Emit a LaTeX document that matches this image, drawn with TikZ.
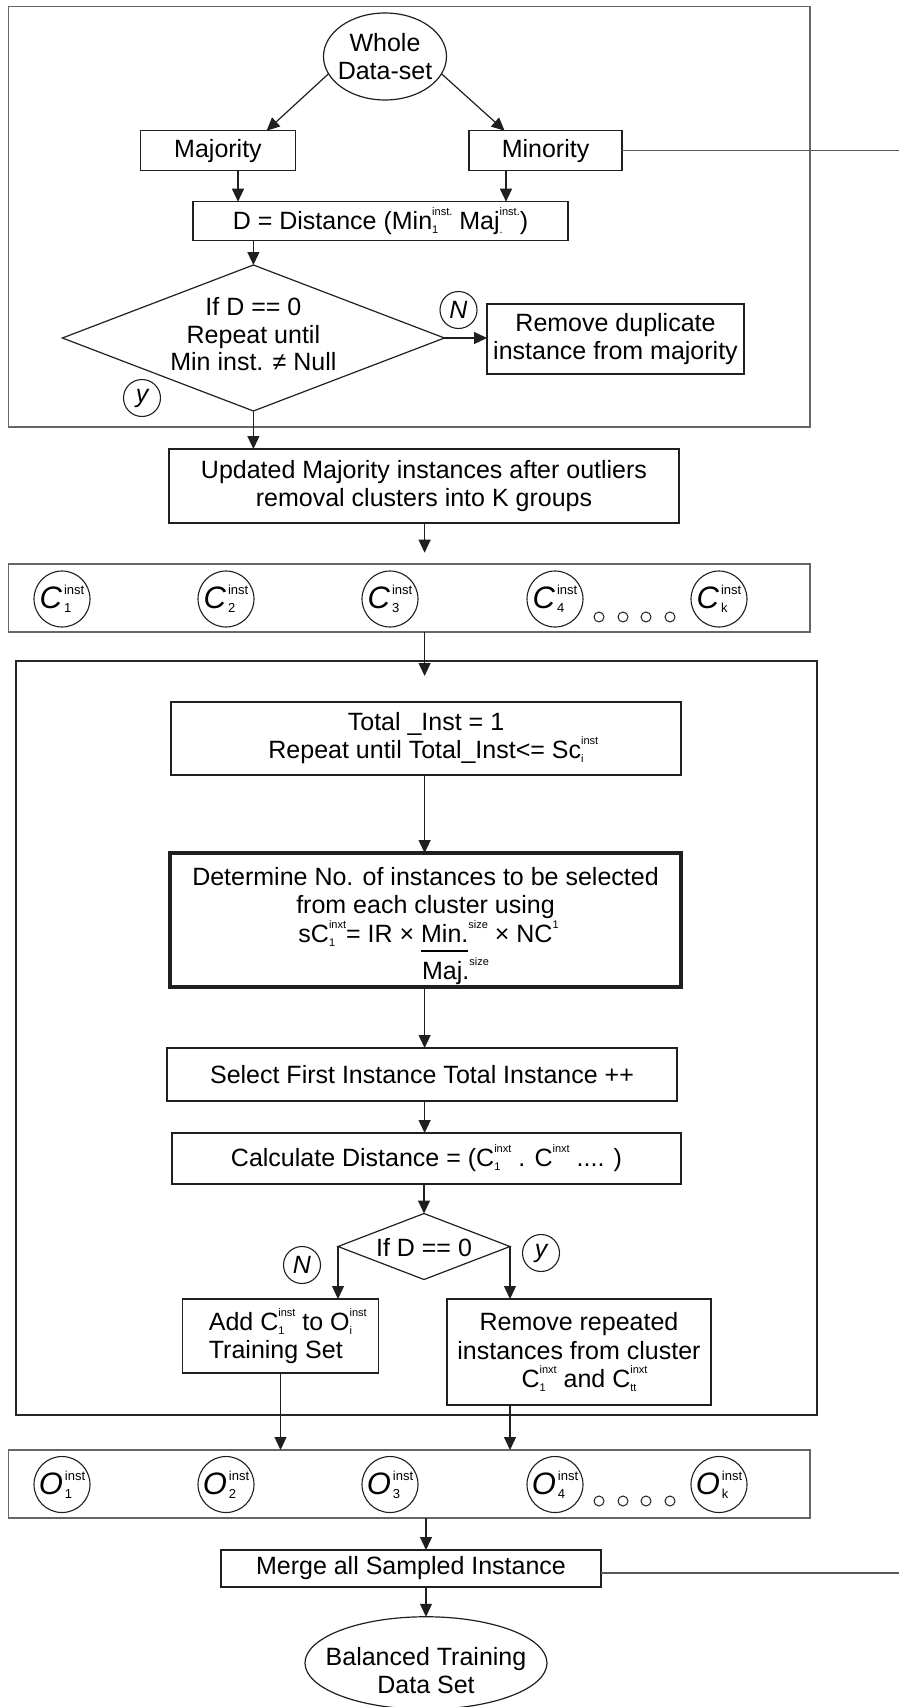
\documentclass[tikz,border=0pt]{standalone}
\usepackage{fontspec}
\setmainfont{Liberation Sans}
\usetikzlibrary{shapes.geometric,arrows.meta}

% superscript over subscript, set in a small size
\newsavebox\supbx
\newsavebox\subbx
\newsavebox\barbx
\newcommand{\ixs}[3][11]{%
  \sbox\supbx{\fontsize{#1}{#1}\selectfont #2}%
  \sbox\subbx{\fontsize{#1}{#1}\selectfont #3}%
  \rlap{\raisebox{14pt}{\usebox\supbx}}%
  \raisebox{-4pt}{\usebox\subbx}%
  \ifdim\wd\supbx>\wd\subbx\hspace{\dimexpr\wd\supbx-\wd\subbx\relax}\fi}
% text with a fraction bar beneath it
\newcommand{\fbar}[1]{\sbox\barbx{#1}\rlap{\rule[-9.5pt]{\wd\barbx}{1.3pt}}\usebox\barbx}
% cluster label inside a circle
\newcommand{\clab}[2]{{\fontsize{31}{31}\selectfont\itshape #1\kern2pt}\ixs[13]{inst}{#2}}

\begin{document}
\begin{tikzpicture}[x=1pt, y=-1pt,
  every node/.style={inner sep=0pt, outer sep=0pt, font=\fontsize{25}{28}\selectfont, align=center},
  box/.style={draw=black!88, line width=1.4pt, rectangle},
  thickbox/.style={box, line width=3.5pt},
  frame/.style={draw=black!60, line width=1.3pt, rectangle},
  innerframe/.style={draw=black!85, line width=1.6pt, rectangle},
  ell/.style={draw=black!88, line width=1.2pt, ellipse},
  dia/.style={draw=black!88, line width=1.2pt, diamond},
  tag/.style={draw=black!88, line width=1.1pt, circle, minimum size=37pt, font=\fontsize{25}{25}\selectfont\itshape},
  cl/.style={draw=black!88, line width=1.1pt, circle, minimum size=56pt},
  dot/.style={draw=black!88, line width=1pt, circle, minimum size=10pt},
  arr/.style={draw=black!88, line width=1.2pt, -{Triangle[length=13pt,width=12pt]}},
  longline/.style={draw=black!65, line width=1.3pt}
]
\useasboundingbox (0,0) rectangle (899,1707);

% ---------- outlier removal stage ----------
\node[frame, minimum width=801.4pt, minimum height=420.5pt] (topframe) at (409.3,216.75) {};
\node[ell, minimum width=123pt, minimum height=87pt] (whole) at (385,56.5) {};
\node (wholet) at (385,57) {Whole\\Data-set};
\node[box, minimum width=155pt, minimum height=40pt] (majb) at (218,150.7) {Majority};
\node[box, minimum width=153pt, minimum height=40pt] (minb) at (545.5,150.7) {Minority};
\node[box, minimum width=375pt, minimum height=39pt] (dist) at (380.5,221.2)
  {D = Distance (Min\ixs{inst.}{1} Maj\ixs{inst.}{.})};
\node[dia, minimum width=382pt, minimum height=146pt] (dec1) at (253.4,338) {};
\node[font=\fontsize{25}{27.5}\selectfont] (dec1t) at (253.4,334.5) {If D == 0\\Repeat until\\Min inst. ≠ Null};
\node[tag] (n1) at (458.5,310) {N};
\node[box, minimum width=257pt, minimum height=70pt] (rem1) at (615.5,339)
  {Remove duplicate\\instance from majority};
\node[tag] (y1) at (142,398) {y};

\node[box, minimum width=510pt, minimum height=74pt] (upd) at (424,486)
  {Updated Majority instances after outliers\\removal clusters into K groups};

% ---------- clusters ----------
\node[frame, minimum width=801.4pt, minimum height=68pt] (crow) at (409.3,598) {};
\node[cl] (c1) at (62,599) {\clab{C}{1}};
\node[cl] (c2) at (226,599) {\clab{C}{2}};
\node[cl] (c3) at (390,599) {\clab{C}{3}};
\node[cl] (c4) at (555,599) {\clab{C}{4}};
\node[cl] (ck) at (719,599) {\clab{C}{k}};
\node[dot] (cd1) at (599,617) {};
\node[dot] (cd2) at (623,617) {};
\node[dot] (cd3) at (646,617) {};
\node[dot] (cd4) at (670,617) {};

% ---------- per-cluster sampling loop ----------
\node[innerframe, minimum width=801pt, minimum height=754pt] (inner) at (416.5,1038) {};
\node[box, minimum width=510pt, minimum height=73pt] (total) at (426,738.5)
  {Total \_Inst = 1\\Repeat until Total\_Inst<= Sc\ixs{inst}{i}};
\node[thickbox, minimum width=511pt, minimum height=134pt] (det) at (425.5,920) {};
\node[font=\fontsize{25}{28.5}\selectfont] (dett) at (425.5,926)
  {Determine No. of instances to be selected\\
   from each cluster using\\
   sC\ixs{inxt}{1}= IR × \fbar{Min.}\ixs{size}{} × NC\ixs{1}{}\\[5pt]
   \hphantom{sC\ixs{inxt}{1}= IR × }\rlap{\hspace{4pt}Maj.\ixs{size}{}}\hphantom{\fbar{Min.}\ixs{size}{} × NC\ixs{1}{}}};
\node[box, minimum width=510pt, minimum height=53pt] (sel) at (422,1074.5)
  {Select First Instance Total Instance ++};
\node[box, minimum width=509pt, minimum height=51pt] (calc) at (426.5,1158.5)
  {Calculate Distance = (C\ixs{inxt}{1} . C\ixs{inxt}{} .... )};
\node[dia, minimum width=172pt, minimum height=66pt] (dec2) at (424,1246.5) {};
\node (dec2t) at (424,1248) {If D == 0};
\node[tag] (n2) at (302,1265) {N};
\node[tag] (y2) at (541,1253) {y};
\node[box, minimum width=196pt, minimum height=74pt, align=left] (add) at (280.5,1336)
  {Add C\ixs{inst}{1} to O\ixs{inst}{i}\\Training Set};
\node[box, minimum width=264pt, minimum height=106pt, font=\fontsize{25}{28.5}\selectfont] (rem2) at (579,1352)
  {Remove repeated\\instances from cluster\\C\ixs{inxt}{1} and C\ixs{inxt}{tt}};

% ---------- sampled outputs ----------
\node[frame, minimum width=801.4pt, minimum height=68pt] (orow) at (409.3,1484) {};
\node[cl] (o1) at (62,1484.5) {\clab{O}{1}};
\node[cl] (o2) at (226,1484.5) {\clab{O}{2}};
\node[cl] (o3) at (390,1484.5) {\clab{O}{3}};
\node[cl] (o4) at (555,1484.5) {\clab{O}{4}};
\node[cl] (ok) at (719,1484.5) {\clab{O}{k}};
\node[dot] (od1) at (599,1501) {};
\node[dot] (od2) at (623,1501) {};
\node[dot] (od3) at (646,1501) {};
\node[dot] (od4) at (670,1501) {};

\node[box, minimum width=380pt, minimum height=37pt] (merge) at (411,1568.5) {Merge all Sampled Instance};
\node[ell, minimum width=242pt, minimum height=92.5pt] (bal) at (426,1663) {};
\node (balt) at (426,1671) {Balanced Training\\Data Set};

% ---------- connectors ----------
\coordinate (t1) at (266.6,130.7);
\coordinate (t2) at (504.6,130.7);
\coordinate (a1) at (238,170.7);
\coordinate (a2) at (506,170.7);
\coordinate (redge) at (899,0);
\coordinate (e1) at (424.6,552.7);
\coordinate (e2) at (424.6,676);
\coordinate (x0) at (424.6,0);
\coordinate (mout) at (899,1573);

\draw[arr] (whole.197) -- (t1);
\draw[arr] (whole.343) -- (t2);
\draw[arr] (a1) -- (a1 |- dist.north);
\draw[arr] (a2) -- (a2 |- dist.north);
\draw[longline] (minb.east) -- (minb.east -| redge);
\draw[arr] (dec1.north |- dist.south) -- (dec1.north);
\draw[arr] (dec1.east) -- (dec1.east -| rem1.west);
\draw[arr] (dec1.south) -- (dec1.south |- upd.north);
\draw[arr] (upd.south -| x0) -- (e1);
\draw[arr] (crow.south -| x0) -- (e2);

\draw[arr] (total.south -| x0) -- (det.north -| x0);
\draw[arr] (det.south -| x0) -- (sel.north -| x0);
\draw[arr] (sel.south -| x0) -- (calc.north -| x0);
\draw[arr] (dec2.north |- calc.south) -- (dec2.north);
\draw[arr] (dec2.west) -- (dec2.west |- add.north);
\draw[arr] (dec2.east) -- (dec2.east |- rem2.north);
\draw[arr] (add.south) -- (add.south |- orow.north);
\draw[arr] (dec2.east |- rem2.south) -- (dec2.east |- orow.north);

\draw[arr] (bal.north |- orow.south) -- (bal.north |- merge.north);
\draw[longline] (merge.east |- mout) -- (mout);
\draw[arr] (bal.north |- merge.south) -- (bal.north);
\end{tikzpicture}
\end{document}
